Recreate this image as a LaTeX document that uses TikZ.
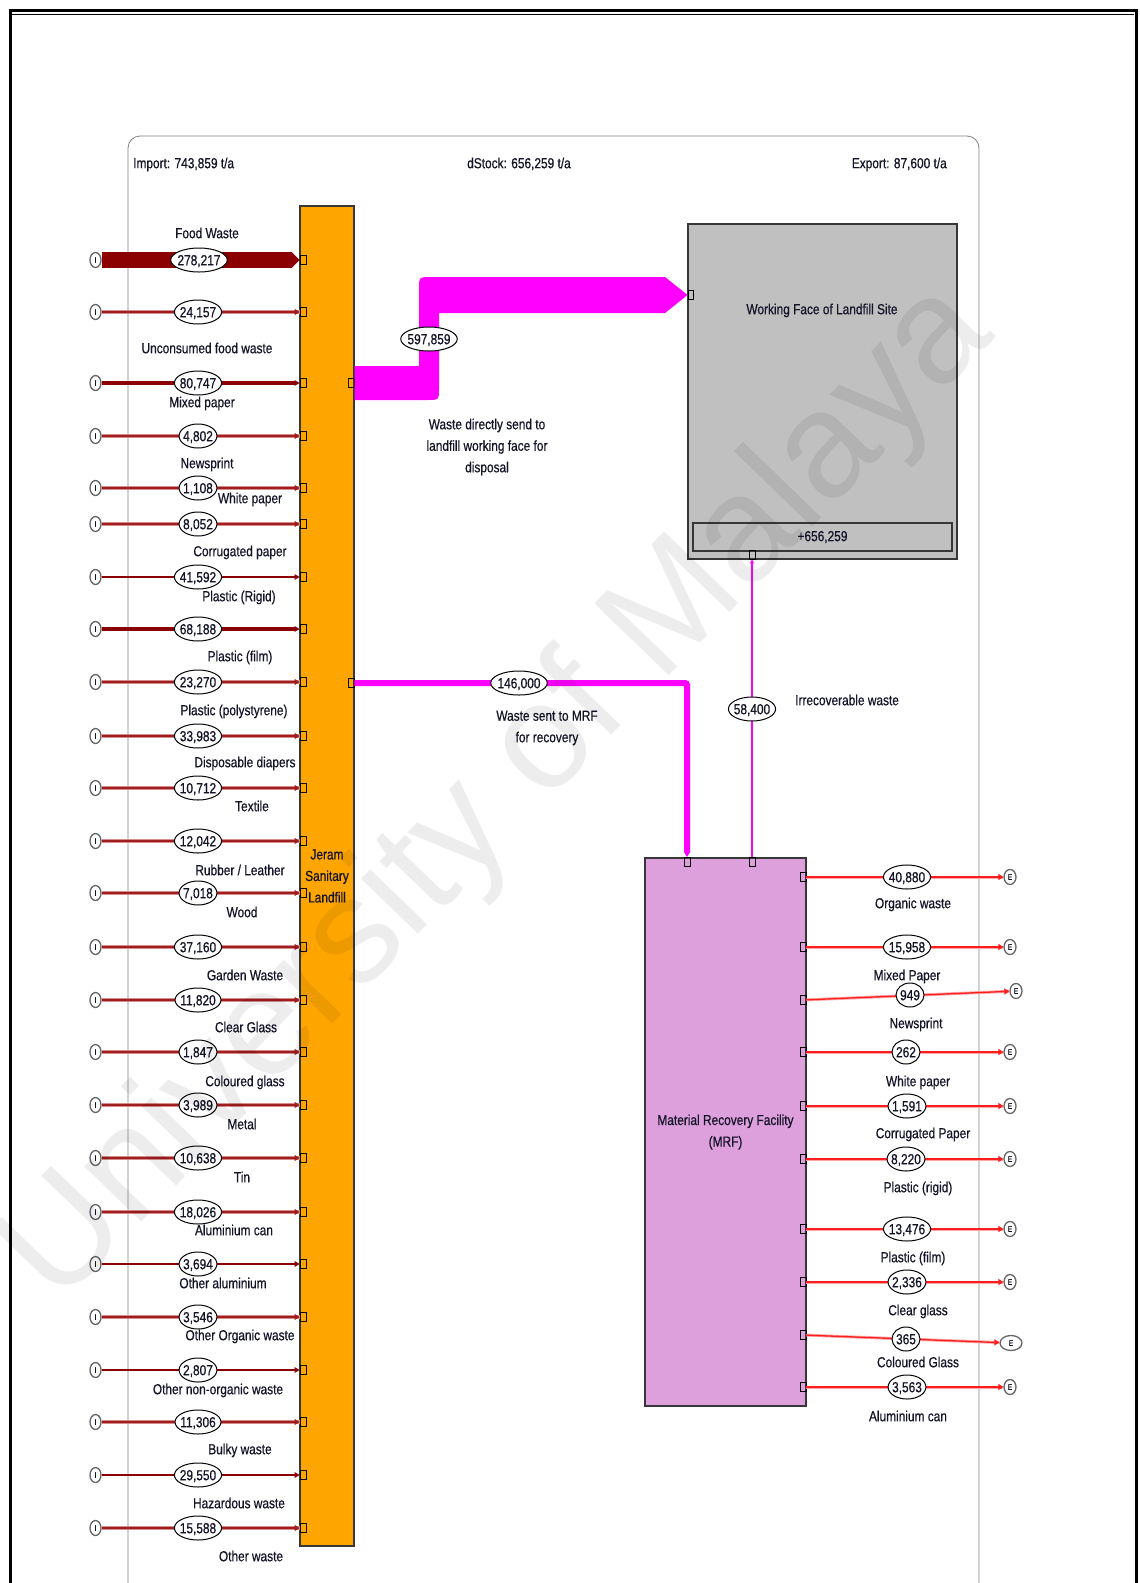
\documentclass[tikz,border=0pt]{standalone}
\usepackage{fontspec}
\setmainfont{Liberation Sans}[FakeStretch=0.82, FakeBold=0.6]
\newfontfamily\markfont{Liberation Sans}
\usetikzlibrary{arrows.meta,shapes.geometric}
\definecolor{landorange}{RGB}{255,165,0}
\definecolor{facegray}{RGB}{192,192,192}
\definecolor{mrfplum}{RGB}{221,160,221}
\definecolor{flowdark}{RGB}{139,0,0}
\definecolor{flowcore}{RGB}{160,30,30}
\definecolor{flowrose}{RGB}{212,140,140}
\definecolor{outred}{RGB}{255,30,30}
\definecolor{outrose}{RGB}{255,165,165}
\definecolor{flowmag}{RGB}{255,0,255}
\definecolor{boxline}{RGB}{55,55,55}
\definecolor{inktext}{RGB}{20,20,40}
\tikzset{
  lbl/.style={inner sep=0pt, text height=10.4pt, text depth=0pt},
  note/.style={inner sep=0pt, align=center},
  valbox/.style={ellipse, draw=black, line width=1pt, fill=white,
                 inner xsep=-1.5pt, inner ysep=0pt, minimum width=28pt,
                 minimum height=24pt, text height=10.4pt, text depth=0pt},
  srcI/.style={ellipse, draw=black!60, line width=1.3pt, fill=white,
               minimum width=11pt, minimum height=15pt, inner sep=0pt,
               font=\fontsize{8}{8}\selectfont},
  sinkE/.style={srcI, minimum width=12pt},
  portbox/.style={rectangle, draw=black, line width=0.9pt, minimum width=6pt,
                  minimum height=9pt, inner sep=0pt},
  procbox/.style={rectangle, draw=boxline, line width=1.4pt, inner sep=0pt, align=center},
  stockbox/.style={rectangle, draw=boxline, line width=1.4pt, minimum width=259pt,
                   minimum height=28pt, inner sep=0pt},
  foodflow/.style={draw=flowdark, line width=16pt,
                   -{Triangle[length=8pt,width=16pt,line width=0pt]}},
  inflow/.style={draw=flowcore, line width=1.1pt, -{Triangle[length=5pt,width=6pt]},
                 preaction={draw=flowrose, line width=3.4pt, -}},
  inflowdk/.style={draw=flowdark, line width=#1, -{Triangle[length=5pt,width=6pt,line width=0pt]}},
  inflowdk/.default=2pt,
  outflow/.style={draw=outred, line width=1.3pt, -{Triangle[length=5pt,width=6pt]},
                  preaction={draw=outrose, line width=3pt, -}},
  mrfflow/.style={draw=flowmag, line width=6pt, rounded corners=2pt,
                  -{Triangle[length=5pt,width=6pt,line width=0pt]}},
  lossflow/.style={draw=flowmag, line width=1.5pt, -{Triangle[length=4pt,width=4pt]}},
  wfflow/.style={fill=flowmag},
  frameline/.style={draw=black!50, line width=0.8pt, rounded corners=12pt},
  watermark/.style={font=\markfont\fontsize{150}{150}\selectfont, text=black,
                    text opacity=0.07, inner sep=0pt},
}
\begin{document}
\begin{tikzpicture}[x=1pt, y=-1pt, font=\fontsize{14.5}{21.5}\selectfont, text=inktext]
  \useasboundingbox (0,0) rectangle (1140,1583);
  % page frame and system boundary
  \draw[line width=3pt] (10,1583) |- (1136,10) -- (1136,1583);
  \draw[line width=0.9pt] (12,14) -- (1134,14);
  \draw[frameline] (128,1583) |- (979,136) -- (979,1583);
  \node[lbl, anchor=west] (imp) at (133,163) {Import: 743,859 t/a};
  \node[lbl] (dst) at (519,163) {dStock: 656,259 t/a};
  \node[lbl, anchor=east] (exp) at (947,163) {Export: 87,600 t/a};
  % processes
  \node[procbox, fill=landorange, minimum width=54pt, minimum height=1340pt] (jsl) at (327,876) {Jeram\\Sanitary\\Landfill};
  \node[procbox, fill=facegray, minimum width=269pt, minimum height=335pt] (wface) at (822.5,391.5) {};
  \node[lbl] (wftitle) at (822,309) {Working Face of Landfill Site};
  \node[stockbox] (stock) at (822.5,537) {+656,259};
  \node[procbox, fill=mrfplum, minimum width=161pt, minimum height=548pt] (mrf) at (725.5,1132) {Material Recovery Facility\\(MRF)};
  % ports
  \node[portbox] (pjw) at (351,383) {};
  \node[portbox] (pjm) at (351,683) {};
  \node[portbox, minimum width=5pt] (pwf) at (690.5,295) {};
  \node[portbox] (pwb) at (752,554.5) {};
  \node[portbox] (pm1) at (687,862) {};
  \node[portbox] (pm2) at (752,862) {};
  % imports
  \node[srcI] (src1) at (95.5,260) {I};   \node[portbox] (pin1) at (303,260) {};
  \node[srcI] (src2) at (95.5,312) {I};   \node[portbox] (pin2) at (303,312) {};
  \node[srcI] (src3) at (95.5,383) {I};   \node[portbox] (pin3) at (303,383) {};
  \node[srcI] (src4) at (95.5,436) {I};   \node[portbox] (pin4) at (303,436) {};
  \node[srcI] (src5) at (95.5,488) {I};   \node[portbox] (pin5) at (303,488) {};
  \node[srcI] (src6) at (95.5,524) {I};   \node[portbox] (pin6) at (303,524) {};
  \node[srcI] (src7) at (95.5,577) {I};   \node[portbox] (pin7) at (303,577) {};
  \node[srcI] (src8) at (95.5,629) {I};   \node[portbox] (pin8) at (303,629) {};
  \node[srcI] (src9) at (95.5,682) {I};   \node[portbox] (pin9) at (303,682) {};
  \node[srcI] (src10) at (95.5,736) {I};  \node[portbox] (pin10) at (303,736) {};
  \node[srcI] (src11) at (95.5,788) {I};  \node[portbox] (pin11) at (303,788) {};
  \node[srcI] (src12) at (95.5,841) {I};  \node[portbox] (pin12) at (303,841) {};
  \node[srcI] (src13) at (95.5,893) {I};  \node[portbox] (pin13) at (303,893) {};
  \node[srcI] (src14) at (95.5,947) {I};  \node[portbox] (pin14) at (303,947) {};
  \node[srcI] (src15) at (95.5,1000) {I}; \node[portbox] (pin15) at (303,1000) {};
  \node[srcI] (src16) at (95.5,1052) {I}; \node[portbox] (pin16) at (303,1052) {};
  \node[srcI] (src17) at (95.5,1105) {I}; \node[portbox] (pin17) at (303,1105) {};
  \node[srcI] (src18) at (95.5,1158) {I}; \node[portbox] (pin18) at (303,1158) {};
  \node[srcI] (src19) at (95.5,1212) {I}; \node[portbox] (pin19) at (303,1212) {};
  \node[srcI] (src20) at (95.5,1264) {I}; \node[portbox] (pin20) at (303,1264) {};
  \node[srcI] (src21) at (95.5,1317) {I}; \node[portbox] (pin21) at (303,1317) {};
  \node[srcI] (src22) at (95.5,1370) {I}; \node[portbox] (pin22) at (303,1370) {};
  \node[srcI] (src23) at (95.5,1422) {I}; \node[portbox] (pin23) at (303,1422) {};
  \node[srcI] (src24) at (95.5,1475) {I}; \node[portbox] (pin24) at (303,1475) {};
  \node[srcI] (src25) at (95.5,1528) {I}; \node[portbox] (pin25) at (303,1528) {};
  \draw[foodflow] (src1) -- (pin1);
  \draw[inflow] (src2) -- (pin2);            \draw[inflowdk=3.5pt] (src3) -- (pin3);
  \draw[inflow] (src4) -- (pin4);            \draw[inflow] (src5) -- (pin5);
  \draw[inflow] (src6) -- (pin6);            \draw[inflowdk=2.2pt] (src7) -- (pin7);
  \draw[inflowdk=3.5pt] (src8) -- (pin8);    \draw[inflow] (src9) -- (pin9);
  \draw[inflow] (src10) -- (pin10);          \draw[inflow] (src11) -- (pin11);
  \draw[inflow] (src12) -- (pin12);          \draw[inflow] (src13) -- (pin13);
  \draw[inflow] (src14) -- (pin14);          \draw[inflow] (src15) -- (pin15);
  \draw[inflow] (src16) -- (pin16);          \draw[inflow] (src17) -- (pin17);
  \draw[inflow] (src18) -- (pin18);          \draw[inflow] (src19) -- (pin19);
  \draw[inflowdk] (src20) -- (pin20);        \draw[inflow] (src21) -- (pin21);
  \draw[inflowdk] (src22) -- (pin22);        \draw[inflow] (src23) -- (pin23);
  \draw[inflowdk] (src24) -- (pin24);        \draw[inflow] (src25) -- (pin25);
  \node[valbox] (vin1) at (199,260) {278,217};  \node[lbl] (tin1) at (207,233) {Food Waste};
  \node[valbox] (vin2) at (198,312) {24,157};   \node[lbl] (tin2) at (207,348) {Unconsumed food waste};
  \node[valbox] (vin3) at (198,383) {80,747};   \node[lbl] (tin3) at (202,402) {Mixed paper};
  \node[valbox] (vin4) at (198,436) {4,802};    \node[lbl] (tin4) at (207,463) {Newsprint};
  \node[valbox] (vin5) at (198,488) {1,108};    \node[lbl] (tin5) at (250,498) {White paper};
  \node[valbox] (vin6) at (198,524) {8,052};    \node[lbl] (tin6) at (240,551) {Corrugated paper};
  \node[valbox] (vin7) at (198,577) {41,592};   \node[lbl] (tin7) at (239,596) {Plastic (Rigid)};
  \node[valbox] (vin8) at (198,629) {68,188};   \node[lbl] (tin8) at (240,656) {Plastic (film)};
  \node[valbox] (vin9) at (198,682) {23,270};   \node[lbl] (tin9) at (234,710) {Plastic (polystyrene)};
  \node[valbox] (vin10) at (198,736) {33,983};  \node[lbl] (tin10) at (245,762) {Disposable diapers};
  \node[valbox] (vin11) at (198,788) {10,712};  \node[lbl] (tin11) at (252,806) {Textile};
  \node[valbox] (vin12) at (198,841) {12,042};  \node[lbl] (tin12) at (240,870) {Rubber / Leather};
  \node[valbox] (vin13) at (198,893) {7,018};   \node[lbl] (tin13) at (242,912) {Wood};
  \node[valbox] (vin14) at (198,947) {37,160};  \node[lbl] (tin14) at (245,975) {Garden Waste};
  \node[valbox] (vin15) at (198,1000) {11,820}; \node[lbl] (tin15) at (246,1027) {Clear Glass};
  \node[valbox] (vin16) at (198,1052) {1,847};  \node[lbl] (tin16) at (245,1081) {Coloured glass};
  \node[valbox] (vin17) at (198,1105) {3,989};  \node[lbl] (tin17) at (242,1124) {Metal};
  \node[valbox] (vin18) at (198,1158) {10,638}; \node[lbl] (tin18) at (242,1177) {Tin};
  \node[valbox] (vin19) at (198,1212) {18,026}; \node[lbl] (tin19) at (234,1230) {Aluminium can};
  \node[valbox] (vin20) at (198,1264) {3,694};  \node[lbl] (tin20) at (223,1283) {Other aluminium};
  \node[valbox] (vin21) at (198,1317) {3,546};  \node[lbl] (tin21) at (240,1335) {Other Organic waste};
  \node[valbox] (vin22) at (198,1370) {2,807};  \node[lbl] (tin22) at (218,1389) {Other non-organic waste};
  \node[valbox] (vin23) at (198,1422) {11,306}; \node[lbl] (tin23) at (240,1449) {Bulky waste};
  \node[valbox] (vin24) at (198,1475) {29,550}; \node[lbl] (tin24) at (239,1503) {Hazardous waste};
  \node[valbox] (vin25) at (198,1528) {15,588}; \node[lbl] (tin25) at (251,1556) {Other waste};
  % internal flows
  \fill[wfflow] (jsl.east |- 0,366) -- (419,366) -- (419,289) .. controls (419,277) .. (431,277)
    -- (665,277) -- (pwf.west) -- (665,313) -- (439,313) -- (439,388) .. controls (439,400) .. (427,400)
    -- (jsl.east |- 0,400) -- cycle;
  \node[valbox] (vwf) at (429,339) {597,859};
  \node[note] (twf) at (487,447) {Waste directly send to\\landfill working face for\\disposal};
  \draw[mrfflow] (pjm.east) -| (pm1.north);
  \node[valbox] (vmrf) at (519,683) {146,000};
  \node[note] (tmrf) at (547,728) {Waste sent to MRF\\for recovery};
  \draw[lossflow] (pm2.north) -- (pwb.south);
  \node[valbox] (vloss) at (752,709) {58,400};
  \node[lbl, anchor=west] (tloss) at (795,700) {Irrecoverable waste};
  % exports from MRF
  \node[portbox] (pout1) at (803,877) {};   \node[sinkE] (e1) at (1010,877) {E};
  \node[portbox] (pout2) at (803,947) {};   \node[sinkE] (e2) at (1010,947) {E};
  \node[portbox] (pout3) at (803,1000) {};  \node[sinkE] (e3) at (1016,991) {E};
  \node[portbox] (pout4) at (803,1052) {};  \node[sinkE] (e4) at (1010,1052) {E};
  \node[portbox] (pout5) at (803,1106) {};  \node[sinkE] (e5) at (1010,1106) {E};
  \node[portbox] (pout6) at (803,1159) {};  \node[sinkE] (e6) at (1010,1159) {E};
  \node[portbox] (pout7) at (803,1229) {};  \node[sinkE] (e7) at (1010,1229) {E};
  \node[portbox] (pout8) at (803,1282) {};  \node[sinkE] (e8) at (1010,1282) {E};
  \node[portbox] (pout9) at (803,1335) {};  \node[sinkE, minimum width=22pt] (e9) at (1011,1343) {E};
  \node[portbox] (pout10) at (803,1387) {}; \node[sinkE] (e10) at (1010,1387) {E};
  \draw[outflow] (pout1) -- (e1);  \draw[outflow] (pout2) -- (e2);
  \draw[outflow] (pout3) -- (e3);  \draw[outflow] (pout4) -- (e4);
  \draw[outflow] (pout5) -- (e5);  \draw[outflow] (pout6) -- (e6);
  \draw[outflow] (pout7) -- (e7);  \draw[outflow] (pout8) -- (e8);
  \draw[outflow] (pout9) -- (e9);  \draw[outflow] (pout10) -- (e10);
  \node[valbox] (vout1) at (907,877) {40,880};   \node[lbl] (tout1) at (913,903) {Organic waste};
  \node[valbox] (vout2) at (907,947) {15,958};   \node[lbl] (tout2) at (907,975) {Mixed Paper};
  \node[valbox] (vout3) at (910,995) {949};      \node[lbl] (tout3) at (916,1023) {Newsprint};
  \node[valbox] (vout4) at (906,1052) {262};     \node[lbl] (tout4) at (918,1081) {White paper};
  \node[valbox] (vout5) at (907,1106) {1,591};   \node[lbl] (tout5) at (923,1133) {Corrugated Paper};
  \node[valbox] (vout6) at (906,1159) {8,220};   \node[lbl] (tout6) at (918,1187) {Plastic (rigid)};
  \node[valbox] (vout7) at (907,1229) {13,476};  \node[lbl] (tout7) at (913,1257) {Plastic (film)};
  \node[valbox] (vout8) at (907,1282) {2,336};   \node[lbl] (tout8) at (918,1310) {Clear glass};
  \node[valbox] (vout9) at (906,1339) {365};     \node[lbl] (tout9) at (918,1362) {Coloured Glass};
  \node[valbox] (vout10) at (907,1387) {3,563};  \node[lbl] (tout10) at (908,1416) {Aluminium can};
  % watermark
  \node[watermark, rotate=46] (wm) at (500,795) {University of Malaya};
\end{tikzpicture}
\end{document}
